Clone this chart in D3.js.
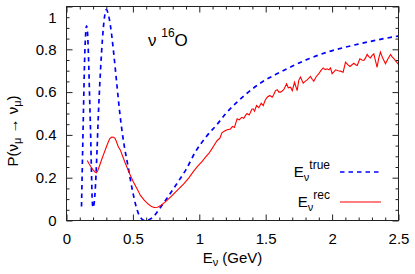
<!DOCTYPE html>
<html><head><meta charset="utf-8">
<script src="https://cdn.jsdelivr.net/npm/d3@7"></script>
<style>
body{margin:0;background:#fff;}
svg{display:block;font-family:"Liberation Sans",Arial,Helvetica,sans-serif;}
</style></head>
<body><svg id="c" width="415" height="274"></svg>
<script>
const xTicks=[0,0.5,1,1.5,2,2.5];
const xTickLabels=["0","0.5","1","1.5","2","2.5"];
const yTicks=[0,0.2,0.4,0.6,0.8,1];
const yTickLabels=["0","0.2","0.4","0.6","0.8","1"];
const trueE=[0.113,0.120,0.128,0.136,0.143,0.151,0.158,0.166,0.173,0.181,0.188,0.194,0.200,0.208,0.218,0.230,0.241,0.256,0.271,0.286,0.300,0.316,0.331,0.354,0.377,0.40,0.42,0.44,0.46,0.48,0.50,0.52,0.54,0.56,0.59,0.62,0.65,0.70,0.75,0.80,0.85,0.90,0.97,1.05,1.135,1.20,1.27,1.35,1.47,1.60,1.71,1.83,1.96,2.10,2.21,2.35,2.50];
const trueP=[0.065,0.28,0.52,0.74,0.86,0.91,0.88,0.76,0.60,0.42,0.23,0.09,0.06,0.08,0.16,0.33,0.51,0.70,0.85,0.95,0.985,0.96,0.91,0.79,0.65,0.51,0.41,0.33,0.265,0.195,0.13,0.075,0.035,0.012,0.0,0.003,0.015,0.055,0.098,0.143,0.19,0.238,0.32,0.39,0.45,0.50,0.545,0.59,0.646,0.69,0.724,0.757,0.786,0.810,0.826,0.845,0.862];
const recE=[0.156,0.170,0.185,0.200,0.215,0.224,0.235,0.250,0.265,0.280,0.295,0.310,0.325,0.340,0.355,0.365,0.375,0.390,0.405,0.420,0.440,0.470,0.500,0.530,0.557,0.585,0.615,0.640,0.660,0.685,0.710,0.740,0.783,0.83,0.883,0.92,0.959,0.99,1.02,1.047,1.07,1.09,1.115,1.135,1.155,1.17,1.19,1.21,1.235,1.25,1.265,1.275,1.285,1.30,1.32,1.335,1.348,1.36,1.375,1.386,1.395,1.406,1.416,1.431,1.448,1.466,1.481,1.495,1.511,1.531,1.549,1.562,1.574,1.587,1.599,1.611,1.624,1.636,1.657,1.670,1.687,1.700,1.717,1.737,1.749,1.762,1.782,1.797,1.812,1.825,1.837,1.850,1.862,1.880,1.900,1.915,1.933,1.948,1.963,1.976,1.988,2.000,2.013,2.026,2.045,2.063,2.083,2.101,2.118,2.134,2.150,2.164,2.176,2.189,2.209,2.225,2.239,2.252,2.264,2.276,2.289,2.300,2.314,2.339,2.350,2.364,2.380,2.402,2.420,2.440,2.452,2.465,2.480,2.500];
const recP=[0.280,0.265,0.250,0.236,0.226,0.223,0.232,0.258,0.285,0.310,0.335,0.360,0.382,0.390,0.389,0.384,0.370,0.345,0.330,0.305,0.272,0.226,0.185,0.150,0.117,0.095,0.077,0.065,0.061,0.062,0.070,0.085,0.109,0.138,0.171,0.198,0.232,0.255,0.275,0.296,0.312,0.330,0.355,0.374,0.385,0.410,0.418,0.424,0.428,0.440,0.435,0.456,0.475,0.470,0.482,0.478,0.491,0.500,0.493,0.506,0.520,0.522,0.511,0.537,0.527,0.548,0.537,0.561,0.576,0.584,0.576,0.590,0.607,0.611,0.600,0.600,0.605,0.611,0.639,0.620,0.623,0.607,0.646,0.607,0.655,0.670,0.642,0.650,0.657,0.665,0.673,0.660,0.651,0.672,0.686,0.700,0.713,0.705,0.709,0.704,0.713,0.686,0.694,0.704,0.700,0.698,0.693,0.740,0.728,0.720,0.728,0.735,0.728,0.724,0.756,0.750,0.748,0.760,0.776,0.766,0.760,0.770,0.779,0.716,0.755,0.787,0.760,0.732,0.755,0.776,0.765,0.756,0.745,0.730];

const L=66.5,R=398.5,T=6.5,B=220.5;
const svg=d3.select("#c");
const x=d3.scaleLinear().domain([0,2.5]).range([L,R]);
const y=d3.scaleLinear().domain([0,1]).range([B,T]);
const xMinor=d3.range(0,2.5001,0.1).filter(v=>Math.abs(v*2-Math.round(v*2))>1e-6);
const yMinor=d3.range(0,1.0001,0.05).filter(v=>Math.abs(v*5-Math.round(v*5))>1e-6);

function styleAxis(g){g.select(".domain").remove();g.selectAll("line").attr("stroke","#222").attr("stroke-width",1);g.selectAll("text").attr("fill","#000").style("font-size","15px").style("font-family","'Liberation Sans',Arial,sans-serif");}
svg.append("g").attr("transform",`translate(0,${B})`).call(d3.axisBottom(x).tickValues(xTicks).tickSize(-6).tickPadding(13).tickFormat((d,i)=>xTickLabels[i])).call(styleAxis);
svg.append("g").attr("transform",`translate(0,${B})`).call(d3.axisBottom(x).tickValues(xMinor).tickSize(-3).tickFormat("")).call(styleAxis);
svg.append("g").attr("transform",`translate(0,${T})`).call(d3.axisTop(x).tickValues(xTicks).tickSize(-6).tickFormat("")).call(styleAxis);
svg.append("g").attr("transform",`translate(0,${T})`).call(d3.axisTop(x).tickValues(xMinor).tickSize(-3).tickFormat("")).call(styleAxis);
const gl=svg.append("g").attr("transform",`translate(${L},0)`).call(d3.axisLeft(y).tickValues(yTicks).tickSize(-6).tickPadding(10).tickFormat((d,i)=>yTickLabels[i])).call(styleAxis);
gl.selectAll(".tick").filter(d=>d===1).select("text").attr("dy","1.05em");
svg.append("g").attr("transform",`translate(${L},0)`).call(d3.axisLeft(y).tickValues(yMinor).tickSize(-3).tickFormat("")).call(styleAxis);
svg.append("g").attr("transform",`translate(${R},0)`).call(d3.axisRight(y).tickValues(yTicks).tickSize(-6).tickFormat("")).call(styleAxis);
svg.append("g").attr("transform",`translate(${R},0)`).call(d3.axisRight(y).tickValues(yMinor).tickSize(-3).tickFormat("")).call(styleAxis);

svg.append("clipPath").attr("id","pc").append("rect").attr("x",L).attr("y",T).attr("width",R-L).attr("height",B-T);
const trueData=trueE.map((e,i)=>[e,trueP[i]]);
const recData=recE.map((e,i)=>[e,recP[i]]);
svg.append("path").datum(trueData).attr("clip-path","url(#pc)")
  .attr("d",d3.line().x(d=>x(d[0])).y(d=>y(d[1])).curve(d3.curveMonotoneX))
  .attr("fill","none").attr("stroke","#0000ff").attr("stroke-width",1.7).attr("stroke-dasharray","4.5,4");
svg.append("path").datum(recData).attr("clip-path","url(#pc)")
  .attr("d",d3.line().x(d=>x(d[0])).y(d=>y(d[1])))
  .attr("fill","none").attr("stroke","#ff0000").attr("stroke-width",1.1);

svg.append("rect").attr("x",L).attr("y",T).attr("width",R-L).attr("height",B-T).attr("fill","none").attr("stroke","#222").attr("stroke-width",1);

const xt=svg.append("text").attr("x",(L+R)/2).attr("y",263).attr("text-anchor","middle").style("font-size","15px");
xt.append("tspan").text("E");
xt.append("tspan").attr("dy",3).style("font-size","11px").text("ν");
xt.append("tspan").attr("dy",-3).text(" (GeV)");

const yt=svg.append("text").attr("transform","translate(18,131) rotate(-90)").attr("text-anchor","middle").style("font-size","15px");
yt.append("tspan").text("P(ν");
yt.append("tspan").attr("dy",3).style("font-size","11px").text("μ");
yt.append("tspan").attr("dy",-3).text(" → ν");
yt.append("tspan").attr("dy",3).style("font-size","11px").text("μ");
yt.append("tspan").attr("dy",-3).text(")");

const an=svg.append("text").attr("x",148).attr("y",46).style("font-size","17px");
an.append("tspan").text("ν ");
an.append("tspan").attr("dy",-9).style("font-size","12px").text("16");
an.append("tspan").attr("dy",9).text("O");

const legend=[{sup:"true",color:"#0000ff",dash:"4.5,4",w:1.7,yy:172},{sup:"rec",color:"#ff0000",dash:null,w:1.2,yy:202}];
legend.forEach(l=>{
  const t=svg.append("text").attr("x",330).attr("y",l.yy+5).attr("text-anchor","end").style("font-size","15px");
  t.append("tspan").text("E");
  t.append("tspan").attr("dy",4).style("font-size","11px").text("ν");
  t.append("tspan").attr("dy",-12).style("font-size","12px").text(l.sup);
  svg.append("line").attr("x1",340).attr("x2",381).attr("y1",l.yy).attr("y2",l.yy)
    .attr("stroke",l.color).attr("stroke-width",l.w).attr("stroke-dasharray",l.dash);
});
</script></body></html>
